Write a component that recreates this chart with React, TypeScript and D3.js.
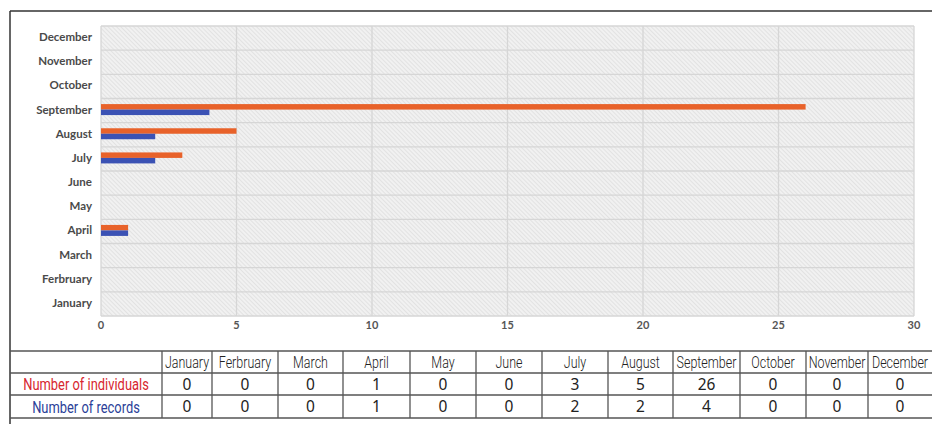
import * as d3 from 'd3';

const months = ['January', 'Ferbruary', 'March', 'April', 'May', 'June', 'July', 'August', 'September', 'October', 'November', 'December'];
const individuals = [0, 0, 0, 1, 0, 0, 3, 5, 26, 0, 0, 0];
const records = [0, 0, 0, 1, 0, 0, 2, 2, 4, 0, 0, 0];
const xTicks = [0, 5, 10, 15, 20, 25, 30];
const seriesNames = ['Number of individuals', 'Number of records'];
const seriesColors = ['#E8622A', '#3B52B4'];
const labelColors = ['#D7262F', '#2B3F99'];

const W = 932;
const H = 424;

// table layout
const colEdges = [10, 162, 212, 278, 343, 410, 476, 542, 608, 673, 740, 806, 868, 932];
const rowEdges = [351, 373, 395, 418];

// narrow text: no condensed font installed, so squeeze horizontally
function Narrow({ x, y, size, fill, sx = 0.78, weight = 400, children }: any) {
  return (
    <g transform={`translate(${x},${y}) scale(${sx},1)`}>
      <text dy="0.36em" textAnchor="middle" fontFamily="Roboto, 'Open Sans', sans-serif" fontWeight={weight} fontSize={size} fill={fill}>
        {children}
      </text>
    </g>
  );
}

export default function App() {
  const x = d3.scaleLinear().domain([0, 30]).range([101, 914]);
  const y = d3.scaleBand().domain([...months].reverse()).range([26, 316]).padding(0);
  const inner = d3
    .scaleBand()
    .domain(['ind', 'rec'])
    .range([0, y.bandwidth()])
    .paddingInner(0)
    .paddingOuter(1.2);

  const series = [individuals, records];
  const [x0, x1] = x.range();
  const [y0, y1] = y.range();
  const bandEdges = d3.range(months.length + 1).map(i => y0 + i * y.step());

  return (
    <svg width={W} height={H} style={{ position: 'absolute', left: 0, top: 0, background: '#fff' }}>
      <defs>
        <pattern id="hatch" width="3" height="3" patternUnits="userSpaceOnUse" patternTransform="rotate(-45)">
          <rect width="3" height="3" fill="#f1f1f1" />
          <line x1="0" y1="0" x2="0" y2="3" stroke="#d9d9d9" strokeWidth="1.2" />
        </pattern>
      </defs>

      {/* outer frame */}
      <line x1={10} y1={11} x2={W} y2={11} stroke="#333" strokeWidth={1.5} />
      <line x1={10} y1={11} x2={10} y2={H} stroke="#333" strokeWidth={1.5} />

      {/* plot area */}
      <rect x={x0} y={y0} width={x1 - x0} height={y1 - y0} fill="url(#hatch)" />
      {bandEdges.map((b, i) => (
        <line key={'h' + i} x1={x0} x2={x1} y1={b} y2={b} stroke="#d6d6d6" strokeWidth={1.3} />
      ))}
      {xTicks.map(t => (
        <line key={'v' + t} x1={x(t)} x2={x(t)} y1={y0} y2={y1} stroke="#d6d6d6" strokeWidth={1.3} />
      ))}

      {/* bars */}
      {months.map((m, i) =>
        series.map((s, k) => (
          <rect
            key={m + k}
            x={x(0)}
            y={(y(m) as number) + (inner(k === 0 ? 'ind' : 'rec') as number) - 1}
            width={x(s[i]) - x(0)}
            height={inner.bandwidth()}
            fill={seriesColors[k]}
          />
        ))
      )}

      {/* y labels */}
      {months.map(m => (
        <text
          key={'yl' + m}
          x={92}
          y={(y(m) as number) + y.bandwidth() / 2 - 1}
          dy="0.35em"
          textAnchor="end"
          fontFamily="Lato, 'Open Sans', sans-serif"
          fontWeight="bold"
          fontSize={11.5}
          fill="#4a4a4a"
        >
          {m}
        </text>
      ))}

      {/* x labels */}
      {xTicks.map(t => (
        <text
          key={'xl' + t}
          x={x(t)}
          y={329}
          textAnchor="middle"
          fontFamily="Lato, 'Open Sans', sans-serif"
          fontWeight="bold"
          fontSize={11}
          fill="#555"
        >
          {t}
        </text>
      ))}

      {/* table */}
      {rowEdges.map((r, i) => (
        <line key={'tr' + i} x1={10} x2={W} y1={r} y2={r} stroke="#555" strokeWidth={1.5} />
      ))}
      {colEdges.slice(1, -1).map((c, i) => (
        <line key={'tc' + i} x1={c} x2={c} y1={rowEdges[0]} y2={rowEdges[3]} stroke="#555" strokeWidth={1.3} />
      ))}
      {months.map((m, i) => (
        <Narrow
          key={'th' + m}
          x={(colEdges[i + 1] + colEdges[i + 2]) / 2}
          y={(rowEdges[0] + rowEdges[1]) / 2}
          size={16}
          fill="#222"
          weight={300}
        >
          {m}
        </Narrow>
      ))}
      {seriesNames.map((name, k) => (
        <g key={'row' + k}>
          <Narrow
            x={(colEdges[0] + colEdges[1]) / 2}
            y={(rowEdges[k + 1] + rowEdges[k + 2]) / 2}
            size={17}
            fill={labelColors[k]}
            sx={0.76}
          >
            {name}
          </Narrow>
          {series[k].map((v, i) => (
            <text
              key={'c' + i}
              x={(colEdges[i + 1] + colEdges[i + 2]) / 2}
              y={(rowEdges[k + 1] + rowEdges[k + 2]) / 2}
              dy="0.36em"
              textAnchor="middle"
              fontFamily="'Noto Sans', 'DejaVu Sans', sans-serif"
              fontSize={15.5}
              fill="#222"
            >
              {v}
            </text>
          ))}
        </g>
      ))}
    </svg>
  );
}
